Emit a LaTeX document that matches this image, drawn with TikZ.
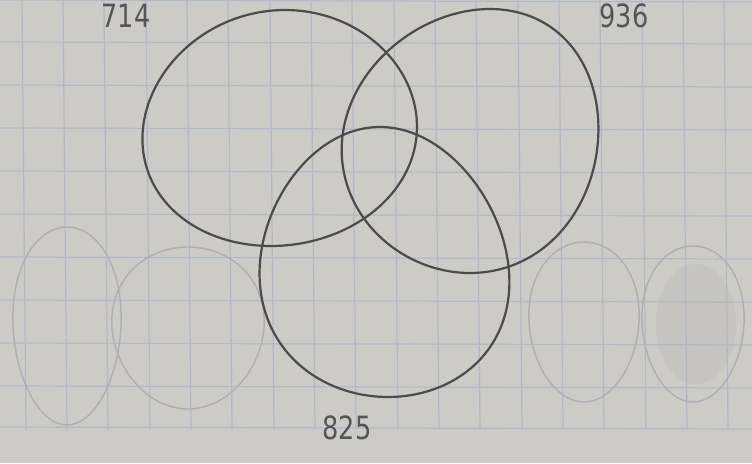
\documentclass[tikz,border=0pt]{standalone}
\usepackage{fontspec}
\setmainfont{DejaVu Sans}
\definecolor{paperc}{RGB}{204,203,198}
\definecolor{gridc}{RGB}{180,183,200}
\definecolor{pencilc}{RGB}{75,75,75}
\definecolor{ghostc}{RGB}{176,174,178}
\definecolor{inkc}{RGB}{85,85,88}
\begin{document}
\begin{tikzpicture}[x=1pt,y=-1pt,
  paper/.style={fill=paperc},
  gridline/.style={draw=gridc,line width=1.2pt},
  pencil/.style={draw=pencilc,line width=2.2pt},
  ghost/.style={draw=ghostc,line width=1.4pt},
  lbl/.style={font=\fontsize{32}{32}\selectfont\addfontfeatures{FakeStretch=0.8},text=inkc}]
\fill[paper] (0,0) rectangle (752,463);
\useasboundingbox (0,0) rectangle (752,463);
% grid
\foreach \gx in {22,63,104,146,187,228,270,311,352,394,435,476,518,559,600,642,683,724}
  \draw[gridline] (\gx,0) -- (\gx+4,430);
\foreach \gy in {0,42,85,128,171,214,257,300,343,386,427}
  \draw[gridline] (0,\gy) -- (752,\gy+2);
% ghost (erased) circles
\draw[ghost] plot[domain=0:360,samples=60,smooth cycle,variable=\t] ({67+54*cos(\t)*(1-0.08*sin(\t))},{326+99*sin(\t)});
\draw[ghost] plot[domain=0:360,samples=60,smooth cycle,variable=\t] ({188+76*cos(\t)*(1-0.08*sin(\t))},{328+81*sin(\t)});
\draw[ghost] plot[domain=0:360,samples=60,smooth cycle,variable=\t] ({584+55*cos(\t)*(1-0.08*sin(\t))},{322+80*sin(\t))});
\draw[ghost] plot[domain=0:360,samples=60,smooth cycle,variable=\t] ({693+51*cos(\t)*(1-0.08*sin(\t))},{324+78*sin(\t)});
\fill[ghostc,opacity=0.22] plot[domain=0:360,samples=40,smooth cycle,variable=\t] ({696+40*cos(\t)},{324+60*sin(\t)});
% three sets
\draw[pencil] plot[domain=0:360,samples=72,smooth cycle,variable=\t]
  ({280+137*cos(\t)*(1+0.04*sin(\t))-7*sin(\t)-2*sin(\t)*sin(\t)},{128+118*sin(\t)});
\draw[pencil] plot[domain=0:360,samples=72,smooth cycle,variable=\t]
  ({470+128*cos(\t)-10*sin(\t)+10*sin(\t)*sin(\t)},{141+132*sin(\t)});
\draw[pencil] plot[domain=0:360,samples=72,smooth cycle,variable=\t]
  ({384+124*cos(\t)*(1+0.12*sin(\t))+4*sin(\t)},{262+135*sin(\t)});
% labels
\node[lbl] (a) at (126,16) {714};
\node[lbl] (b) at (624,16) {936};
\node[lbl] (c) at (347,428) {825};
\end{tikzpicture}
\end{document}
